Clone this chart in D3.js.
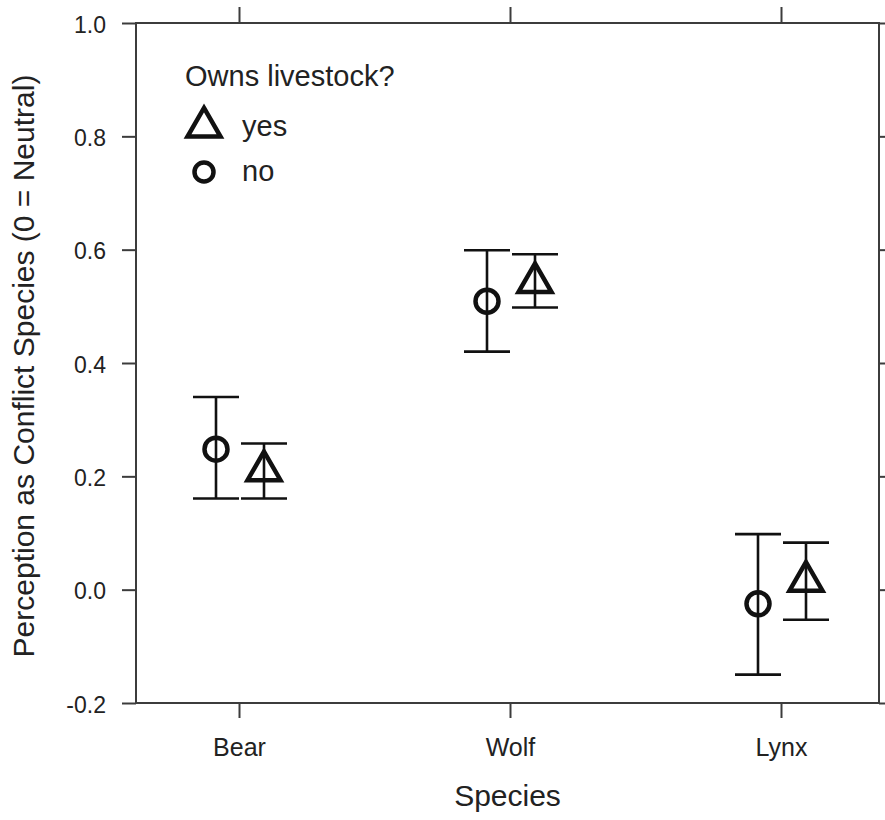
<!DOCTYPE html>
<html>
<head>
<meta charset="utf-8">
<script src="https://cdn.jsdelivr.net/npm/d3@7"></script>
<style>
  body { margin: 0; background: #fff; }
  svg text { font-family: "Liberation Sans", Arial, sans-serif; fill: #222; }
</style>
</head>
<body>
<svg id="canvas" width="885" height="820"></svg>
<script>
// data
const species = ["Bear", "Wolf", "Lynx"];
const groups = ["no", "yes"];   // owns livestock?
// mean and interval ends per species, for each group
const noMean = [0.248, 0.509, -0.025];
const noLow  = [0.161, 0.420, -0.150];
const noHigh = [0.340, 0.599, 0.098];
const yesMean = [0.210, 0.542, 0.015];
const yesLow  = [0.161, 0.498, -0.053];
const yesHigh = [0.258, 0.592, 0.083];
const yTicks = [-0.2, 0.0, 0.2, 0.4, 0.6, 0.8, 1.0];

const svg = d3.select("#canvas");
const mLeft = 136, mRight = 879, mTop = 23, mBottom = 703;

var x = d3.scalePoint().domain(species).range([239, 781]);
var y = d3.scaleLinear().domain([-0.2, 1.0]).range([mBottom, mTop]);

const offset = {no: -23, yes: 25};
const capHalf = 23;

// build rows for drawing
var rows = [];
species.forEach((s, i) => {
        rows.push({sp: s, g: "no", m: noMean[i], lo: noLow[i], hi: noHigh[i]});
        rows.push({sp: s, g: "yes", m: yesMean[i], lo: yesLow[i], hi: yesHigh[i]});
});

const axisCol = "#3c3c3c";

// frame
svg.append("rect")
        .attr("x", mLeft).attr("y", mTop)
        .attr("width", mRight - mLeft).attr("height", mBottom - mTop)
        .attr("fill", "none").attr("stroke", axisCol).attr("stroke-width", 2);

// axes
function styleAxis(g){
        g.select(".domain").remove();
        g.selectAll(".tick line").attr("stroke", axisCol).attr("stroke-width", 2);
        g.selectAll(".tick text").attr("fill", "#222").attr("font-family", null);
}

svg.append("g")
        .attr("transform", "translate(" + mLeft + ",0)")
        .call(d3.axisLeft(y).tickValues(yTicks).tickFormat(d => d.toFixed(1)).tickSize(14).tickPadding(16))
        .call(styleAxis)
        .selectAll(".tick text")
        .style("font-size", "23px")
        .attr("dy", "0.4em");

svg.append("g")
        .attr("transform", "translate(" + mRight + ",0)")
        .call(d3.axisRight(y).tickValues(yTicks).tickFormat("").tickSize(14))
        .call(styleAxis);

svg.append("g")
        .attr("transform", "translate(0," + mBottom + ")")
        .call(d3.axisBottom(x).tickSize(15).tickPadding(20))
        .call(styleAxis)
        .selectAll(".tick text")
        .style("font-size", "25px");

svg.append("g")
        .attr("transform", "translate(0," + mTop + ")")
        .call(d3.axisTop(x).tickSize(16).tickFormat(""))
        .call(styleAxis);

// axis titles
svg.append("text")
        .attr("x", (mLeft + mRight) / 2)
        .attr("y", 806)
        .attr("text-anchor", "middle")
        .style("font-size", "30px")
        .text("Species");

svg.append("text")
        .attr("transform", "translate(34," + 366 + ") rotate(-90)")
        .attr("text-anchor", "middle")
        .style("font-size", "30px")
        .text("Perception as Conflict Species (0 = Neutral)");

// markers
const triSide = 33;
function triPath(s){
        var h = s * Math.sqrt(3) / 2;
        return "M0," + (-2 * h / 3) + "L" + (s / 2) + "," + (h / 3) + "L" + (-s / 2) + "," + (h / 3) + "Z";
}

var pts = svg.append("g");
var bars = pts.selectAll(".eb").data(rows).enter().append("g")
        .attr("class", "eb")
        .attr("transform", d => "translate(" + (x(d.sp) + offset[d.g]) + ",0)");

bars.append("line")
        .attr("x1", 0).attr("x2", 0)
        .attr("y1", d => y(d.lo)).attr("y2", d => y(d.hi))
        .attr("stroke", "#111").attr("stroke-width", 2.6);
bars.append("line")
        .attr("x1", -capHalf).attr("x2", capHalf)
        .attr("y1", d => y(d.hi)).attr("y2", d => y(d.hi))
        .attr("stroke", "#111").attr("stroke-width", 2.6);
bars.append("line")
        .attr("x1", -capHalf).attr("x2", capHalf)
        .attr("y1", d => y(d.lo)).attr("y2", d => y(d.lo))
        .attr("stroke", "#111").attr("stroke-width", 2.6);

bars.filter(d => d.g == "no").append("circle")
        .attr("cy", d => y(d.m)).attr("r", 11.5)
        .attr("fill", "none").attr("stroke", "#111").attr("stroke-width", 4.5);

bars.filter(d => d.g == "yes").append("path")
        .attr("d", triPath(triSide))
        .attr("transform", d => "translate(0," + y(d.m) + ")")
        .attr("fill", "none").attr("stroke", "#111").attr("stroke-width", 4.5)
        .attr("stroke-linejoin", "miter");

// legend
var legend = svg.append("g");
legend.append("text")
        .attr("x", 185).attr("y", 86)
        .style("font-size", "29px")
        .text("Owns livestock?");

var legItems = [{g: "yes", y: 127}, {g: "no", y: 172}];
legItems.forEach(it => {
        if (it.g == "yes") {
                legend.append("path")
                        .attr("d", triPath(triSide))
                        .attr("transform", "translate(204," + it.y + ")")
                        .attr("fill", "none").attr("stroke", "#111").attr("stroke-width", 4.5);
        } else {
                legend.append("circle")
                        .attr("cx", 204).attr("cy", it.y).attr("r", 9.5)
                        .attr("fill", "none").attr("stroke", "#111").attr("stroke-width", 4.5);
        }
        legend.append("text")
                .attr("x", 242).attr("y", it.y + 9)
                .style("font-size", "29px")
                .text(it.g);
});
</script>
</body>
</html>
